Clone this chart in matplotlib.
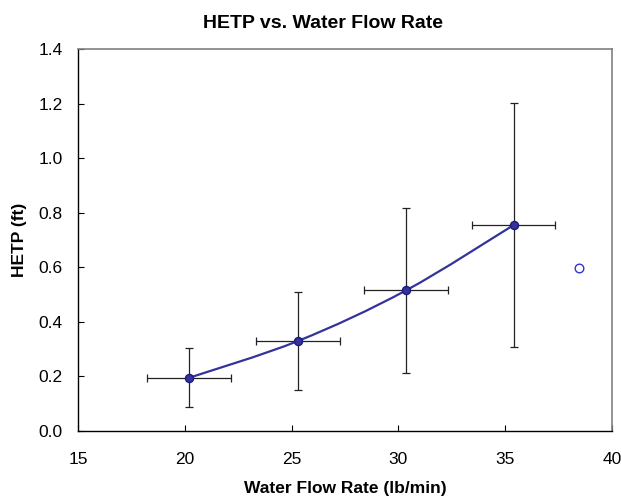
import matplotlib
matplotlib.use('Agg')
import matplotlib.pyplot as plt
import numpy as np
from matplotlib.path import Path
from matplotlib.patches import PathPatch

plt.rcParams['font.family'] = ['Liberation Sans', 'DejaVu Sans']

# data
flow = [20.2, 25.3, 30.35, 35.4]
hetp = [0.195, 0.33, 0.515, 0.755]
flow_err = [1.95, 1.95, 1.95, 1.95]
hetp_err = [0.108, 0.178, 0.302, 0.448]
outlier_flow = [38.45]
outlier_hetp = [0.598]

x_ticks = [15, 20, 25, 30, 35, 40]
y_ticks = [0.0, 0.2, 0.4, 0.6, 0.8, 1.0, 1.2, 1.4]

line_col = '#333399'

fig = plt.figure(figsize=(6.21, 4.96), dpi=100)
ax = fig.add_axes([78 / 621, 65 / 496, 534 / 621, 382 / 496])

# smoothed line (catmull-rom style bezier through the points)
pts = np.column_stack([flow, hetp])
ext = np.vstack([pts[0], pts, pts[-1]])
verts = [tuple(pts[0])]
codes = [Path.MOVETO]
for i in range(1, len(ext) - 2):
    p0, p1, p2, p3 = ext[i - 1], ext[i], ext[i + 1], ext[i + 2]
    c1 = p1 + (p2 - p0) / 6.0
    c2 = p2 - (p3 - p1) / 6.0
    verts += [tuple(c1), tuple(c2), tuple(p2)]
    codes += [Path.CURVE4] * 3
ax.add_patch(PathPatch(Path(verts, codes), facecolor='none', edgecolor=line_col,
                       lw=1.6, zorder=2))

ax.errorbar(flow, hetp, xerr=flow_err, yerr=hetp_err, fmt='none', ecolor='#222222',
            elinewidth=0.9, capsize=2.8, capthick=0.9, zorder=1)
ax.plot(flow, hetp, 'o', color=line_col, mec='#1a1a80', ms=5.8, zorder=3)
ax.plot(outlier_flow, outlier_hetp, 'o', mfc='white', mec='#3333cc', mew=1.0, ms=6.2, zorder=3)

ax.set_xlim(15, 40)
ax.set_ylim(0, 1.4)
ax.set_xticks(x_ticks)
ax.set_yticks(y_ticks)
ax.set_yticklabels(['%.1f' % v for v in y_ticks])
ax.tick_params(direction='in', length=4, width=0.8, labelsize=12.5, colors='black')
ax.tick_params(axis='y', pad=11)
ax.tick_params(axis='x', pad=15)
for s in ['top', 'right']:
    ax.spines[s].set_color('#808080')
    ax.spines[s].set_linewidth(1.2)
for s in ['left', 'bottom']:
    ax.spines[s].set_color('black')
    ax.spines[s].set_linewidth(1.0)

# title centred on the chart area rather than the plot box
fig.text(323 / 621, 1 - 24 / 496, 'HETP vs. Water Flow Rate', fontsize=14,
         fontweight='bold', ha='center', va='center')
ax.set_xlabel('Water Flow Rate (lb/min)', fontsize=12.5, fontweight='bold', labelpad=10)
ax.set_ylabel('HETP (ft)', fontsize=12.5, fontweight='bold', labelpad=8)

fig.savefig('out.png', dpi=100)
